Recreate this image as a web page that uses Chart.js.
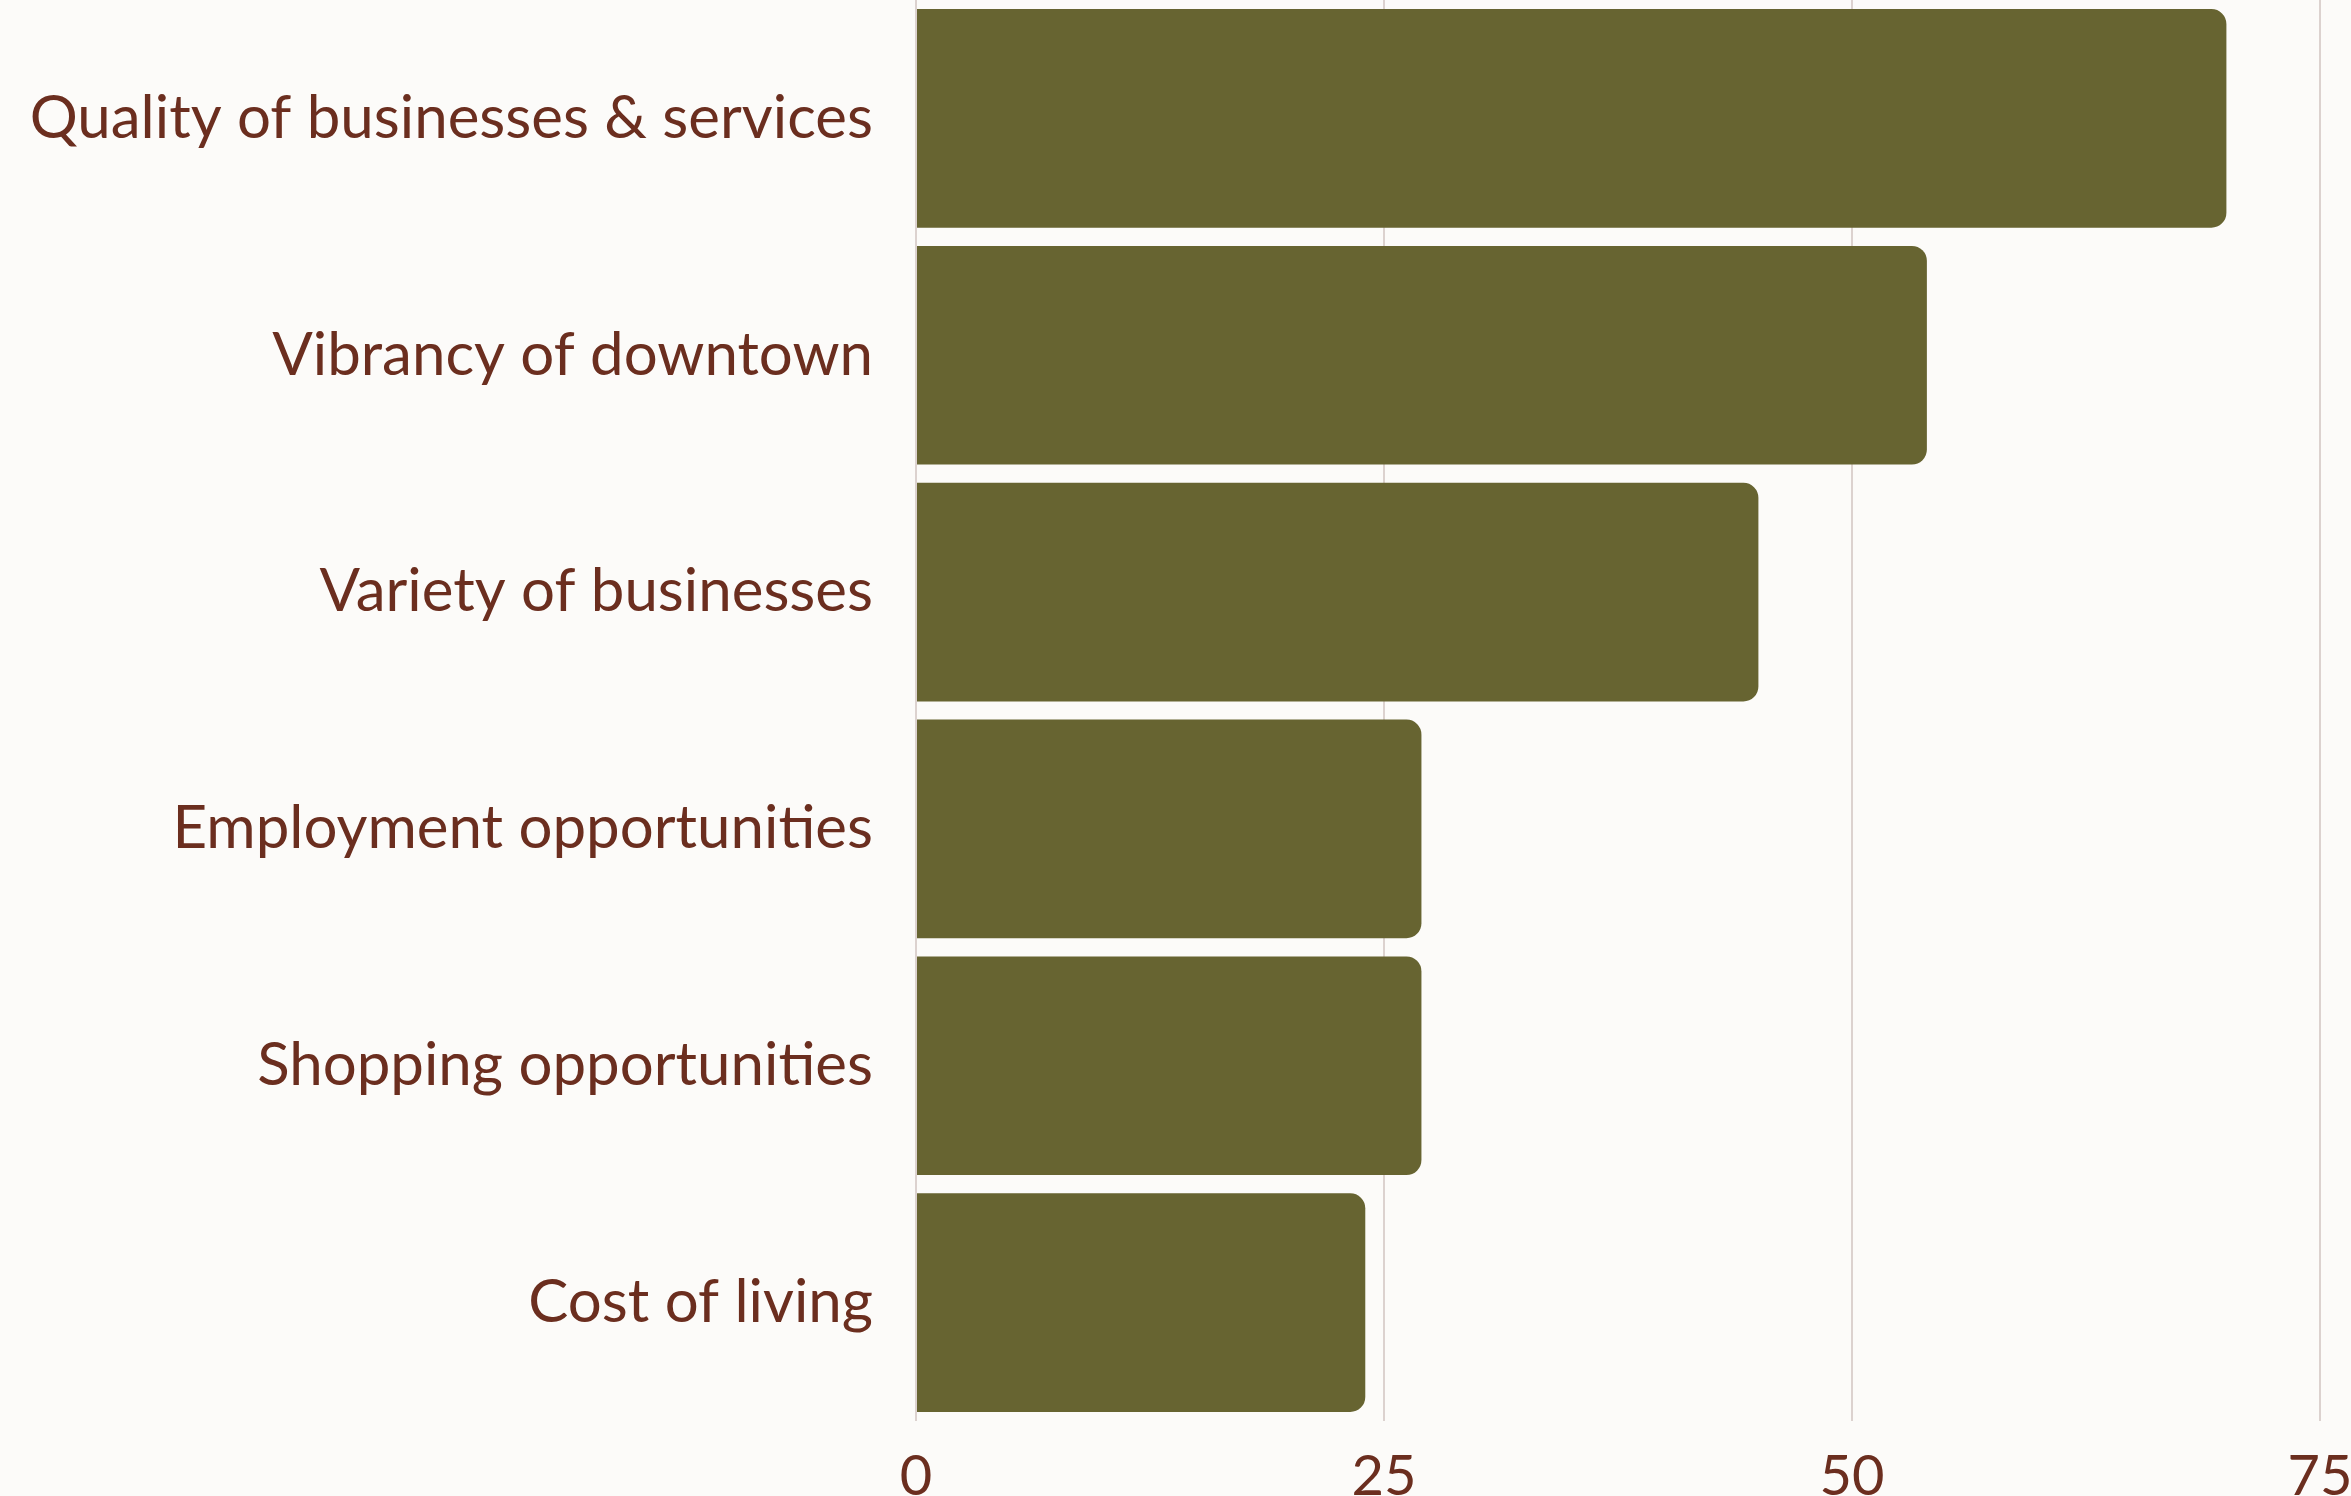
<!DOCTYPE html>
<html>
<head>
<meta charset="utf-8">
<script src="https://cdn.jsdelivr.net/npm/chart.js@4.4.1/dist/chart.umd.min.js"></script>
<style>
  html, body { margin: 0; padding: 0; background: #fcfbf9; }
  #wrap { width: 2351px; height: 1496px; }
</style>
</head>
<body>
<div id="wrap"><canvas id="factorChart"></canvas></div>
<script>
// --- data ---
const categories = [
  "Quality of businesses & services",
  "Vibrancy of downtown",
  "Variety of businesses",
  "Employment opportunities",
  "Shopping opportunities",
  "Cost of living"
];
const responses = [70, 54, 45, 27, 27, 24];
const xTicks = [0, 25, 50, 75];

const textColor = "#6b2e1f";
const barColor = "#676431";
const gridColor = "#dcd2cf";

new Chart(document.getElementById("factorChart"), {
  type: "bar",
  data: {
    labels: categories,
    datasets: [{
      data: responses,
      backgroundColor: barColor,
      borderRadius: 15,
      borderSkipped: "start",
      barPercentage: 0.923,
      categoryPercentage: 1
    }]
  },
  options: {
    indexAxis: "y",
    responsive: true,
    maintainAspectRatio: false,
    animation: false,
    layout: { padding: { top: 0, right: 31, left: 0, bottom: 0 } },
    plugins: { legend: { display: false }, tooltip: { enabled: false } },
    scales: {
      x: {
        min: 0,
        max: 75,
        afterBuildTicks: s => { s.ticks = xTicks.map(v => ({ value: v })); },
        afterFit: s => { s.height = 75; s.paddingLeft = 0; s.paddingRight = 0; },
        grid: { color: gridColor, lineWidth: 2, drawTicks: false },
        border: { display: false },
        ticks: {
          color: textColor,
          padding: 22,
          font: { family: "Lato", size: 56 }
        }
      },
      y: {
        afterFit: s => { s.width = 916; s.paddingTop = 0; s.paddingBottom = 0; },
        grid: { display: false },
        border: { display: false },
        ticks: {
          color: textColor,
          padding: 35,
          font: { family: "Lato", size: 60 }
        }
      }
    }
  }
});
</script>
</body>
</html>
